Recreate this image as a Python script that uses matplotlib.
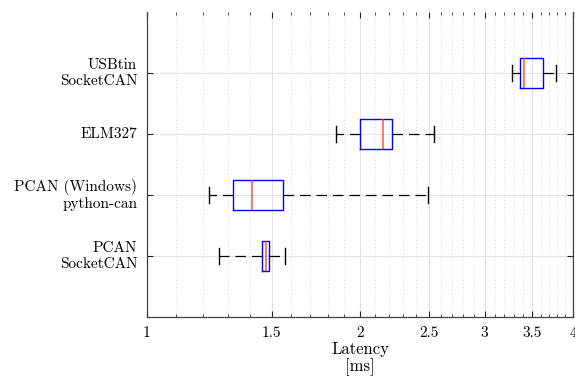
import numpy as np
import matplotlib
matplotlib.use("Agg")
import matplotlib.pyplot as plt
from matplotlib.ticker import FixedLocator, NullFormatter

plt.rcParams['font.family'] = 'serif'
plt.rcParams['font.serif'] = ['cmr10']
plt.rcParams['mathtext.fontset'] = 'cm'
plt.rcParams['axes.formatter.use_mathtext'] = True

# Data (bottom to top)
labels = ["PCAN\nSocketCAN", "PCAN (Windows)\npython-can", "ELM327", "USBtin\nSocketCAN"]
whislo = [1.264, 1.222, 1.852, 3.28]
q1     = [1.454, 1.324, 2.000, 3.367]
med    = [1.471, 1.409, 2.158, 3.414]
q3     = [1.487, 1.557, 2.222, 3.623]
whishi = [1.565, 2.492, 2.541, 3.79]

xticks = [1, 1.5, 2, 2.5, 3, 3.5, 4]
xticklabels = ["1", "1.5", "2", "2.5", "3", "3.5", "4"]

stats = []
for lab, a, b, c, d, e in zip(labels, whislo, q1, med, q3, whishi):
    stats.append(dict(label=lab, whislo=a, q1=b, med=c, q3=d, whishi=e, fliers=[]))

fig = plt.figure(figsize=(5.75, 3.8), dpi=100)
ax = fig.add_axes([147/575, 63/380, 426/575, 305/380])

ax.set_xscale('log')
ax.set_xlim(1, 4)
ax.set_ylim(0, 5)

dash = (0, (8.4, 4.8))
ax.bxp(stats, positions=[1, 2, 3, 4], vert=False, widths=0.5, showfliers=False,
       boxprops=dict(color='#0000ff', linewidth=1.0),
       medianprops=dict(color='#ff3333', linewidth=1.1, alpha=0.85),
       whiskerprops=dict(color='black', linewidth=0.9, linestyle=dash),
       capprops=dict(color='black', linewidth=1.0), zorder=3)

ax.xaxis.set_major_locator(FixedLocator(xticks))
ax.set_xticklabels(xticklabels)
minor = [v for v in np.round(np.arange(1.1, 4.0, 0.1), 1) if v not in xticks]
ax.xaxis.set_minor_locator(FixedLocator(minor))
ax.xaxis.set_minor_formatter(NullFormatter())

ax.set_yticks([1, 2, 3, 4])
ax.set_yticklabels(labels, fontsize=11, linespacing=1.2)
for t in ax.get_yticklabels():
    t.set_verticalalignment('center')

ax.grid(True, which='major', axis='both', color='#e3e3e3', linewidth=0.8, linestyle='-', zorder=0)
ax.grid(True, which='minor', axis='x', color='#c8c8c8', linewidth=0.6, linestyle=(0, (1, 3)), zorder=0)
ax.set_axisbelow(True)

ax.tick_params(axis='x', which='major', direction='in', top=True, bottom=True, length=4,
               width=0.8, color='#262626', labelsize=11, pad=6.5)
ax.tick_params(axis='x', which='minor', direction='in', top=True, bottom=True, length=2.5,
               width=0.6, color='#262626')
ax.tick_params(axis='y', which='major', direction='in', left=True, right=True, length=4,
               width=0.8, color='#262626', labelsize=11, pad=7)

for s in ['left', 'right', 'bottom']:
    ax.spines[s].set_color('#404040')
    ax.spines[s].set_linewidth(0.9)
ax.spines['top'].set_visible(False)

ax.set_xlabel("Latency\n[ms]", fontsize=12, labelpad=1.5, linespacing=1.05)

fig.savefig("out.png", dpi=100)
